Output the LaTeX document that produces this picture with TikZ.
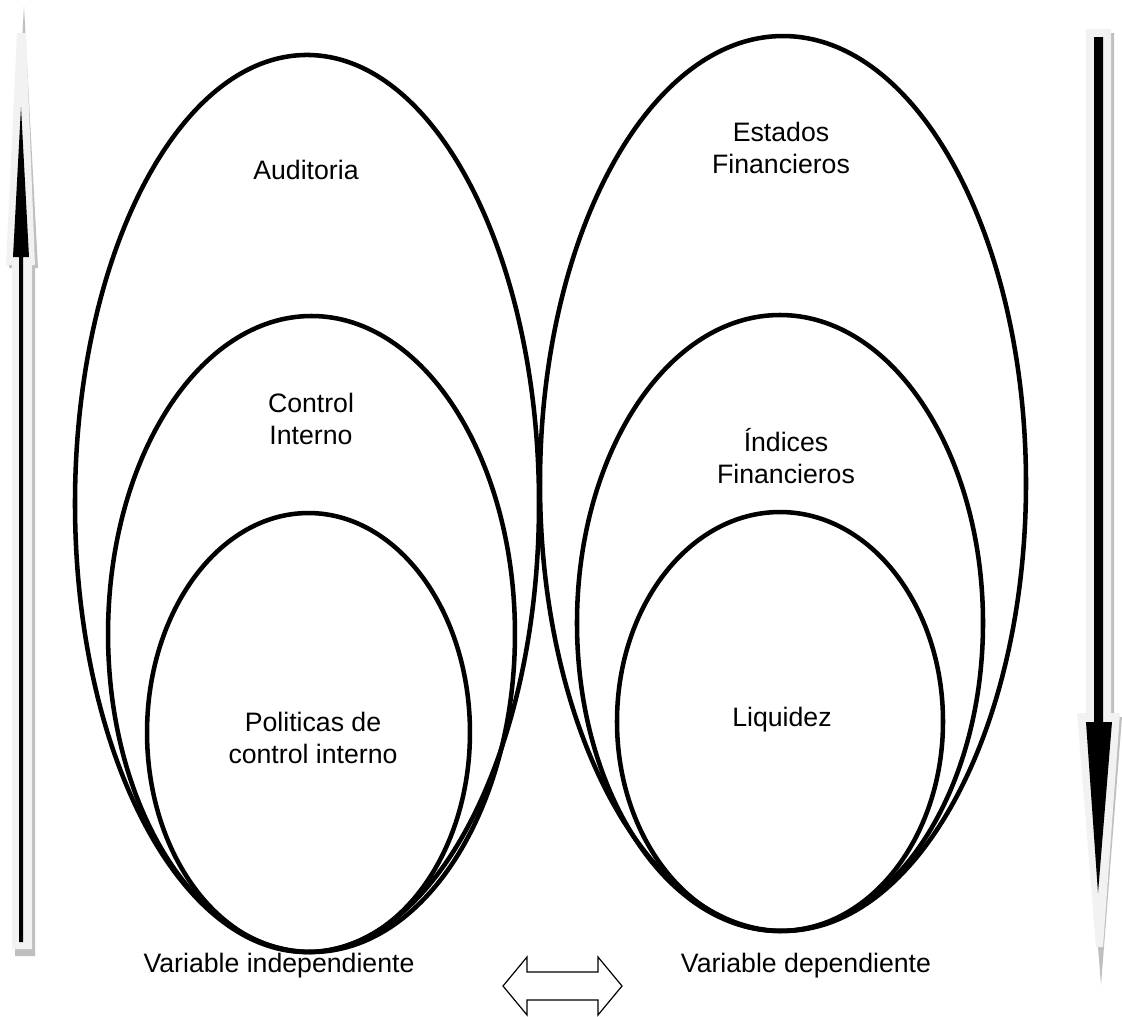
\documentclass[tikz,border=0pt]{standalone}
\usepackage{fontspec}
\setmainfont{Liberation Sans}
\begin{document}
\begin{tikzpicture}[x=0.75pt,y=-0.75pt,
  ring/.style={line width=3.4pt,draw=black},
  label/.style={align=center,font=\fontsize{20}{24.5}\selectfont,inner sep=0pt},
  shadowfill/.style={fill=black!25,draw=none},
  lightfill/.style={fill=black!5,draw=none},
  blackfill/.style={fill=black,draw=none},
  hollow/.style={draw=black,line width=0.9pt,fill=white,line join=miter}]
\useasboundingbox (0,0) rectangle (1122,1017);

% left group: independent variable
\draw[ring] (307,503.5) ellipse [x radius=174pt, y radius=336.4pt];
\draw[ring] (311.5,634) ellipse [x radius=152.6pt, y radius=238.5pt];
\draw[ring] (308.5,732.5) ellipse [x radius=121.1pt, y radius=164.6pt];

% right group: dependent variable
\draw[ring] (783,483.5) ellipse [x radius=182.25pt, y radius=335.6pt];
\draw[ring] (780,623) ellipse [x radius=152.25pt, y radius=231pt];
\draw[ring] (780,721.5) ellipse [x radius=122.25pt, y radius=157.1pt];

% texts
\node[label] (aud) at (306,170) {Auditoria};
\node[label] (ci) at (311,419) {Control\\Interno};
\node[label] (pol) at (313,738) {Politicas de\\control interno};
\node[label] (ef) at (781,148) {Estados\\Financieros};
\node[label] (if) at (786,456) {Índices\\Financieros};
\node[label] (liq) at (782,720) {Liquidez};
\node[label] (vi) at (279,966) {Variable independiente};
\node[label] (vd) at (806,966) {Variable dependiente};

% left upward arrow
\fill[shadowfill] (24,6) -- (38,268) -- (35,268) -- (35,956) -- (15,956) -- (15,268) -- (9,268) -- cycle;
\fill[lightfill] (17,33) -- (26,33) -- (35,265) -- (32,265) -- (32,949) -- (12,949) -- (12,265) -- (6,265) -- cycle;
\fill[blackfill] (21,107) -- (29,257) -- (23,257) -- (23,942) -- (19,942) -- (19,257) -- (13,257) -- cycle;

% right downward arrow
\fill[shadowfill] (1089,33) -- (1114,33) -- (1114,717) -- (1122,717) -- (1101,985) -- (1080,717) -- (1089,717) -- cycle;
\fill[lightfill] (1086,29) -- (1111,29) -- (1111,713) -- (1120,713) -- (1103,947) -- (1096,947) -- (1077,713) -- (1086,713) -- cycle;
\fill[blackfill] (1094,37) -- (1103,37) -- (1103,722) -- (1112,722) -- (1098,893) -- (1086,722) -- (1094,722) -- cycle;

% two-way arrow between the variables
\coordinate (lt) at (503,986);
\coordinate (rt) at (622,986);
\draw[hollow] (lt) -- (527,957) -- (527,972) -- (598,972) -- (598,957) -- (rt)
  -- (598,1015) -- (598,1000) -- (527,1000) -- (527,1015) -- cycle;
\end{tikzpicture}
\end{document}
